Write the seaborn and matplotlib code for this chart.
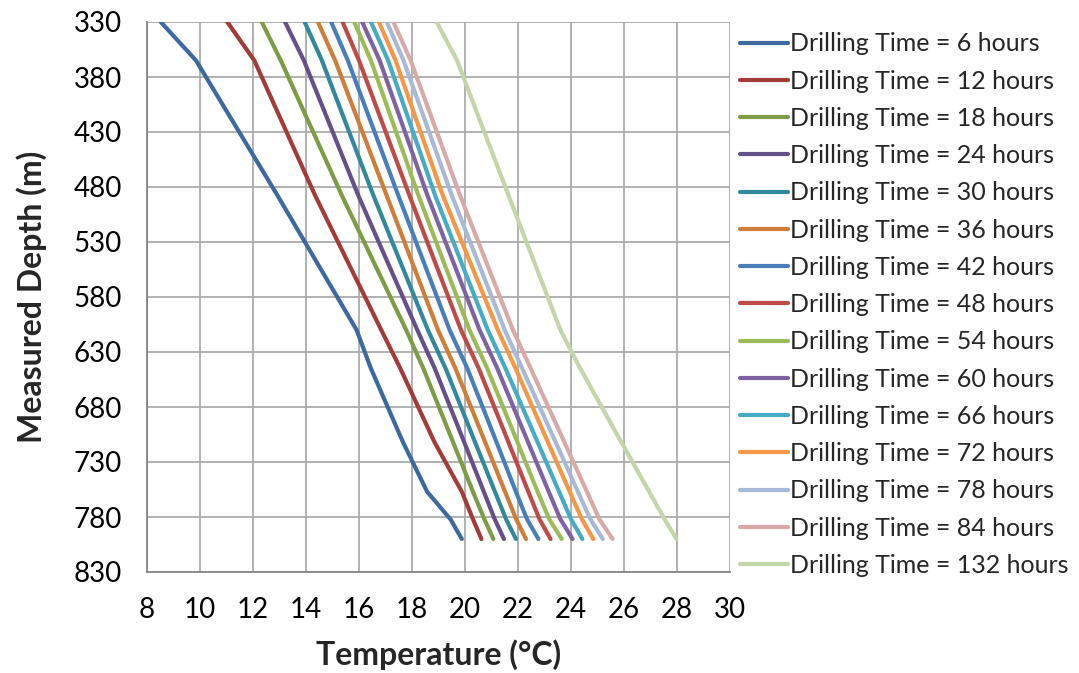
import numpy as np
import pandas as pd
import seaborn as sns
import matplotlib
matplotlib.use("Agg")
import matplotlib.pyplot as plt

# Measured depth (m) at which each temperature profile is sampled
depth_m = [330, 365, 487.5, 610, 645, 712, 757, 782, 800]

# Wellbore temperature (°C) at those depths, one profile per drilling time
temp_006h = [8.52, 9.85, 12.92, 15.91, 16.45, 17.66, 18.57, 19.45, 19.88]
temp_012h = [11.03, 12.05, 14.34, 16.84, 17.56, 18.85, 19.88, 20.30, 20.62]
temp_018h = [12.33, 13.05, 15.35, 17.78, 18.43, 19.55, 20.30, 20.73, 21.07]
temp_024h = [13.21, 13.92, 15.97, 18.20, 18.86, 19.97, 20.71, 21.12, 21.47]
temp_030h = [13.95, 14.60, 16.54, 18.60, 19.27, 20.38, 21.13, 21.55, 21.92]
temp_036h = [14.45, 15.10, 17.04, 18.98, 19.64, 20.76, 21.51, 21.93, 22.30]
temp_042h = [14.95, 15.58, 17.48, 19.42, 20.09, 21.19, 21.92, 22.34, 22.77]
temp_048h = [15.38, 16.00, 17.90, 19.85, 20.52, 21.64, 22.39, 22.81, 23.23]
temp_054h = [15.82, 16.45, 18.24, 20.17, 20.84, 21.98, 22.74, 23.18, 23.65]
temp_060h = [16.12, 16.78, 18.58, 20.55, 21.22, 22.38, 23.16, 23.60, 24.06]
temp_066h = [16.45, 17.10, 18.87, 20.86, 21.53, 22.74, 23.55, 24.00, 24.43]
temp_072h = [16.75, 17.38, 19.16, 21.24, 21.91, 23.13, 23.95, 24.41, 24.84]
temp_078h = [17.05, 17.68, 19.50, 21.50, 22.16, 23.42, 24.26, 24.73, 25.20]
temp_084h = [17.30, 17.95, 19.81, 21.81, 22.48, 23.75, 24.60, 25.07, 25.57]
temp_132h = [18.93, 19.70, 21.64, 23.60, 24.35, 25.90, 26.95, 27.53, 27.98]

drilling_hours = [6, 12, 18, 24, 30, 36, 42, 48, 54, 60, 66, 72, 78, 84, 132]
profiles = [temp_006h, temp_012h, temp_018h, temp_024h, temp_030h, temp_036h,
            temp_042h, temp_048h, temp_054h, temp_060h, temp_066h, temp_072h,
            temp_078h, temp_084h, temp_132h]

line_colors = ["#3D69A0", "#A23B39", "#7E9B46", "#66508A", "#33889E", "#CF7D38",
               "#4A7EBB", "#BF4B48", "#9BBB59", "#7F62A1", "#47ABC6", "#F79646",
               "#A7B9D9", "#D9A9A8", "#C3D6A7"]

x_ticks = list(range(8, 31, 2))
y_ticks = list(range(330, 831, 50))

labels = [f"Drilling Time = {h} hours" for h in drilling_hours]
df = pd.DataFrame({
    "Temperature": np.concatenate(profiles),
    "Depth": np.tile(depth_m, len(profiles)),
    "Series": np.repeat(labels, len(depth_m)),
})

sns.set_theme(style="white")
plt.rcParams["font.family"] = ["Lato", "DejaVu Sans"]

fig = plt.figure(figsize=(10.79, 6.73), dpi=100)
ax = fig.add_axes([147 / 1079, 1 - 572 / 673, (730 - 147) / 1079, (572 - 22) / 673])

sns.lineplot(data=df, x="Temperature", y="Depth", hue="Series",
             hue_order=labels, palette=line_colors, sort=False,
             estimator=None, linewidth=3.0, ax=ax,
             solid_capstyle="round", solid_joinstyle="round", clip_on=True)

ax.set_xlim(8, 30)
ax.set_ylim(830, 330)
ax.set_xticks(x_ticks)
ax.set_yticks(y_ticks)

ax.grid(True, color="#ABABAB", linewidth=1.3)
ax.set_axisbelow(True)
for side in ["top", "right"]:
    ax.spines[side].set_visible(False)
for side in ["left", "bottom"]:
    ax.spines[side].set_color("#868686")
    ax.spines[side].set_linewidth(1.3)

ax.tick_params(axis="both", which="major", direction="out", length=7,
               width=1.2, color="#868686", labelsize=20, labelcolor="black")
ax.tick_params(axis="y", pad=11)
ax.tick_params(axis="x", pad=11)

ax.set_xlabel("Temperature (°C)", fontsize=23, fontweight="bold", labelpad=12)
ax.set_ylabel("Measured Depth (m)", fontsize=23, fontweight="bold", labelpad=19)

sns.move_legend(ax, loc="upper left", bbox_to_anchor=(740 / 1079, 0.952),
                bbox_transform=fig.transFigure, frameon=False, title=None,
                fontsize=18, handlelength=1.9, handletextpad=0.12,
                labelspacing=0.57, borderaxespad=0, borderpad=0)
for h in ax.get_legend().get_lines():
    h.set_linewidth(3.0)
    h.set_solid_capstyle("round")

fig.savefig("out.png", dpi=100)
